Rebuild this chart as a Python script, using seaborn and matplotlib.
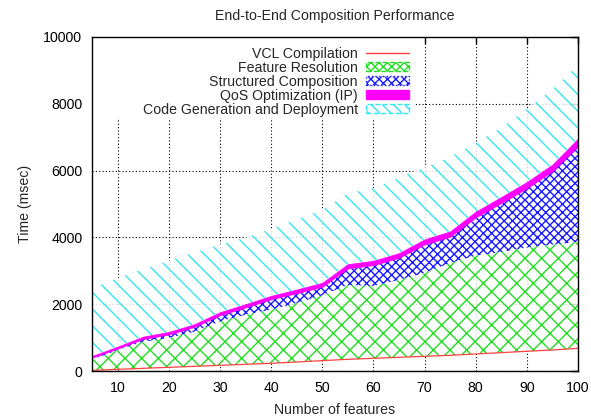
import numpy as np
import pandas as pd
import matplotlib
matplotlib.use("Agg")
import matplotlib.pyplot as plt
import seaborn as sns
from matplotlib.patches import Patch, Rectangle
from matplotlib.lines import Line2D

# ---- data (msec) ----
features = [5, 10, 15, 20, 25, 30, 35, 40, 45, 50, 55, 60, 65, 70, 75, 80, 85, 90, 95, 100]
vcl_compilation = [20, 50, 80, 110, 140, 170, 200, 230, 270, 310, 350, 380, 410, 440, 470, 510, 550, 590, 630, 680]
feature_resolution = [310, 570, 790, 880, 1030, 1310, 1480, 1600, 1760, 1950, 2220, 2160, 2310, 2490, 2760, 2940, 3010, 3100, 3150, 3180]
structured_composition = [70, 50, 90, 100, 150, 190, 220, 320, 300, 260, 500, 630, 670, 860, 790, 1150, 1470, 1780, 2200, 2880]
qos_optimization = [50, 60, 70, 80, 80, 90, 100, 100, 110, 120, 130, 130, 140, 150, 160, 170, 180, 190, 200, 220]
code_generation = [2040, 2050, 2020, 2130, 2150, 2030, 1990, 2000, 2100, 2180, 2120, 2170, 2270, 2150, 2230, 2050, 2080, 2180, 2260, 2200]

labels = ["VCL Compilation", "Feature Resolution", "Structured Composition",
          "QoS Optimization (IP)", "Code Generation and Deployment"]
x_ticks = [10, 20, 30, 40, 50, 60, 70, 80, 90, 100]
y_ticks = [0, 2000, 4000, 6000, 8000, 10000]

df = pd.DataFrame({
    "features": features,
    "vcl": vcl_compilation,
    "feat": feature_resolution,
    "struct": structured_composition,
    "qos": qos_optimization,
    "code": code_generation,
})
c1 = df["vcl"].to_numpy()
c2 = c1 + df["feat"].to_numpy()
c3 = c2 + df["struct"].to_numpy()
c4 = c3 + df["qos"].to_numpy()
c5 = c4 + df["code"].to_numpy()
x = df["features"].to_numpy()

sns.set_theme(style="white")
plt.rcParams["font.family"] = ["Liberation Sans", "DejaVu Sans"]
plt.rcParams["hatch.linewidth"] = 1.0

FS = 10.2
fig = plt.figure(figsize=(5.91, 4.17), dpi=100)
ax = fig.add_axes([0.1557, 0.1103, 0.8223, 0.801])

ax.grid(True, which="major", color="black", linestyle=(0, (1, 2)), linewidth=0.8)
ax.set_axisbelow(True)

# key area background (hides grid behind the key, as in the original)
ax.add_patch(Rectangle((0, 0.757), 0.665, 0.243, transform=ax.transAxes,
                       facecolor="white", edgecolor="none", zorder=1.5))

face = (1, 1, 1, 0.82)
ax.fill_between(x, c4, c5, facecolor=face, edgecolor="#33e6f0", hatch="\\\\", linewidth=0, zorder=2)
ax.fill_between(x, c3, c4, facecolor="#ff00ff", edgecolor="#ff00ff", linewidth=0.5, zorder=3)
ax.fill_between(x, c2, c3, facecolor=face, edgecolor="#1a1aff", hatch="xxxx", linewidth=0, zorder=2)
ax.fill_between(x, c1, c2, facecolor=face, edgecolor="#22dd22", hatch="xx", linewidth=0, zorder=2)
sns.lineplot(x=x, y=c1, ax=ax, color="#ff4040", linewidth=0.9, zorder=4)

ax.set_xlim(5, 100)
ax.set_ylim(0, 10000)
ax.set_xticks(x_ticks)
ax.set_yticks(y_ticks)
ax.tick_params(direction="in", length=5, width=1, top=True, right=True,
               labelsize=FS, colors="black", pad=7)
for s in ax.spines.values():
    s.set_color("black")
    s.set_linewidth(1.0)
    s.set_zorder(5)

ax.set_title("End-to-End Composition Performance", fontsize=FS, pad=12)
ax.set_xlabel("Number of features", fontsize=FS, labelpad=6)
ax.set_ylabel("Time (msec)", fontsize=FS, labelpad=8)

handles = [
    Line2D([0], [0], color="#ff4040", linewidth=1.0),
    Patch(facecolor="white", edgecolor="#22dd22", hatch="xxxx", linewidth=1.0, linestyle="--"),
    Patch(facecolor="white", edgecolor="#1a1aff", hatch="xxxx", linewidth=1.0, linestyle=":"),
    Patch(facecolor="#ff00ff", edgecolor="#ff00ff", linewidth=1.0),
    Patch(facecolor="white", edgecolor="#33e6f0", hatch="\\\\\\", linewidth=1.0, linestyle="--"),
]
leg = ax.legend(handles, labels, loc="upper right", bbox_to_anchor=(0.675, 1.005),
                frameon=False, markerfirst=False, fontsize=FS, handlelength=3.0,
                handleheight=0.6, labelspacing=0.0, handletextpad=0.6, borderpad=0.3)
leg.set_zorder(6)

fig.savefig("out.png", dpi=100, facecolor="white")
